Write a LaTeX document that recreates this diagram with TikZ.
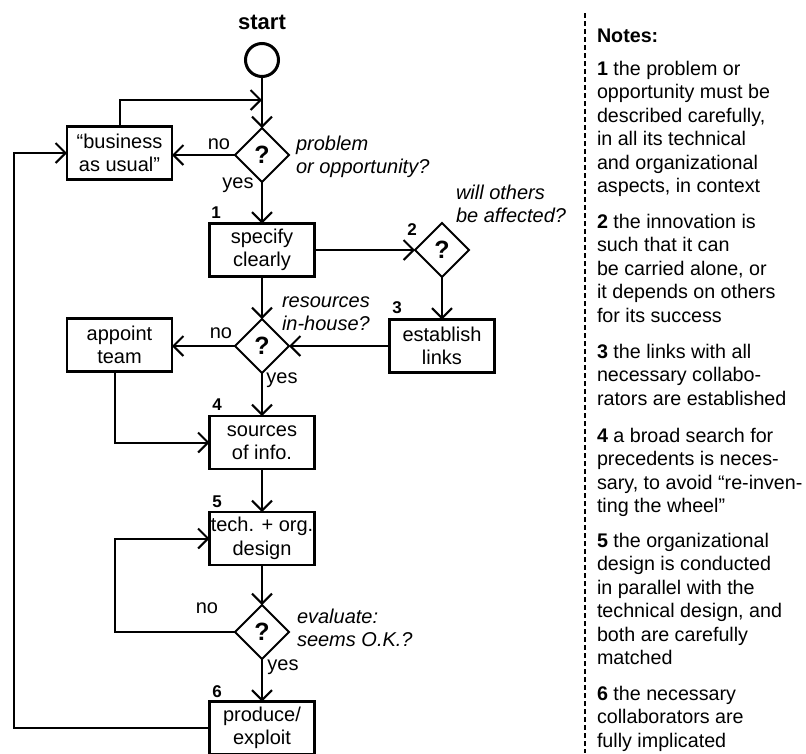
\documentclass[tikz,border=0pt]{standalone}
\usepackage{fontspec}
\setmainfont{Liberation Sans}
\usetikzlibrary{shapes.geometric,arrows.meta}
\begin{document}
\begin{tikzpicture}[x=1pt,y=-1pt,
  every node/.style={inner sep=0pt, outer sep=0pt},
  txt/.style={font=\fontsize{20}{23.5}\selectfont},
  stepbox/.style={draw, line width=2.8pt, minimum width=105pt, minimum height=53pt, align=center, txt},
  query/.style={diamond, draw, line width=2pt, minimum width=54pt, minimum height=54pt, font=\fontsize{25}{25}\selectfont\bfseries},
  conn/.style={line width=2pt, -{Straight Barb[length=10pt,width=20pt]}},
  num/.style={font=\fontsize{17}{17}\selectfont\bfseries},
  ans/.style={txt},
  % multi-line nodes: the base anchor sits on the last line
  ask/.style={font=\fontsize{20}{23.5}\selectfont\itshape, align=left, anchor=base west},
  note/.style={font=\fontsize{19.7}{23.5}\selectfont, align=left, anchor=base west},
]
\useasboundingbox (0,0) rectangle (806,753);

% ---- flow chart ----
\node[font=\fontsize{22}{22}\selectfont\bfseries] (title) at (262,22) {start};
\node[circle, draw, line width=3pt, minimum size=33pt] (st) at (262,60) {};

\node[query] (d1) at (262,155) {?};
\node[stepbox] (bau) at (119.5,153) {“business\\as usual”};
\node[stepbox] (spec) at (262,250) {specify\\clearly};
\node[query] (d2) at (442,250) {?};
\node[stepbox] (est) at (442,346) {establish\\links};
\node[query] (d3) at (262,346) {?};
\node[stepbox] (team) at (119.5,345) {appoint\\team};
\node[stepbox] (src) at (262,442.5) {sources\\of info.};
\node[stepbox] (tech) at (262,538.5) {tech. + org.\\design};
\node[query] (d4) at (262,632) {?};
\node[stepbox] (prod) at (262,728) {produce/\\exploit};

\coordinate (join) at (262,100);

% connectors
\draw[conn] (st) -- (d1);
\draw[conn] (bau.north) |- (join);
\draw[conn] (d1.west) -- (d1.west -| bau.east);
\draw[conn] (d1.south) -- (spec.north);
\draw[conn] (spec.east |- d2) -- (d2.west);
\draw[conn] (d2.south) -- (est.north);
\draw[conn] (spec.south) -- (d3.north);
\draw[conn] (est.west |- d3) -- (d3.east);
\draw[conn] (d3.west) -- (d3.west -| team.east);
\draw[conn] (d3.south) -- (src.north);
\draw[conn] ([xshift=-4.5pt]team.south) |- (src.west);
\draw[conn] (src.south) -- (tech.north);
\draw[conn] (tech.south) -- (d4.north);
\draw[conn] (d4.west) -- ++(-120,0) |- (tech.west);
\draw[conn] (d4.south) -- (prod.north);
\draw[conn] (prod.west) -- ++(-196,0) |- (bau.west);

% branch answers
\node[ans] (no1) at (219,144) {no};
\node[ans] (yes1) at (238,185) {yes};
\node[ans] (no3) at (221,333) {no};
\node[ans] (yes3) at (282,380) {yes};
\node[ans] (no4) at (207,608) {no};
\node[ans] (yes4) at (283,667) {yes};

% questions
\node[ask] (q1) at (296,173.5) {problem\\or opportunity?};
\node[ask] (q2) at (456,222.5) {will others\\be affected?};
\node[ask] (q3) at (282,330.5) {resources\\in-house?};
\node[ask] (q4) at (297,646.5) {evaluate:\\seems O.K.?};

% step numbers
\node[num] (n1) at (216,213) {1};
\node[num] (n2) at (412,230) {2};
\node[num] (n3) at (397,308) {3};
\node[num] (n4) at (217,405) {4};
\node[num] (n5) at (217,502) {5};
\node[num] (n6) at (217,692) {6};

% ---- notes column ----
\draw[line width=1.5pt, dash pattern=on 5pt off 3pt] (585,13) -- (585,753);

\node[note, font=\fontsize{19.7}{23.5}\selectfont\bfseries] (nh) at (597,42) {Notes:};
\node[note] (t1) at (597,192.5) {\textbf{1} the problem or\\opportunity must be\\described carefully,\\in all its technical\\and organizational\\aspects, in context};
\node[note] (t2) at (597,322) {\textbf{2} the innovation is\\such that it can\\be carried alone, or\\it depends on others\\for its success};
\node[note] (t3) at (597,405) {\textbf{3} the links with all\\necessary collabo-\\rators are established};
\node[note] (t4) at (597,512.5) {\textbf{4} a broad search for\\precedents is neces-\\sary, to avoid “re-inven-\\ting the wheel”};
\node[note] (t5) at (597,664.5) {\textbf{5} the organizational\\design is conducted\\in parallel with the\\technical design, and\\both are carefully\\matched};
\node[note] (t6) at (597,747) {\textbf{6} the necessary\\collaborators are\\fully implicated};
\end{tikzpicture}
\end{document}
